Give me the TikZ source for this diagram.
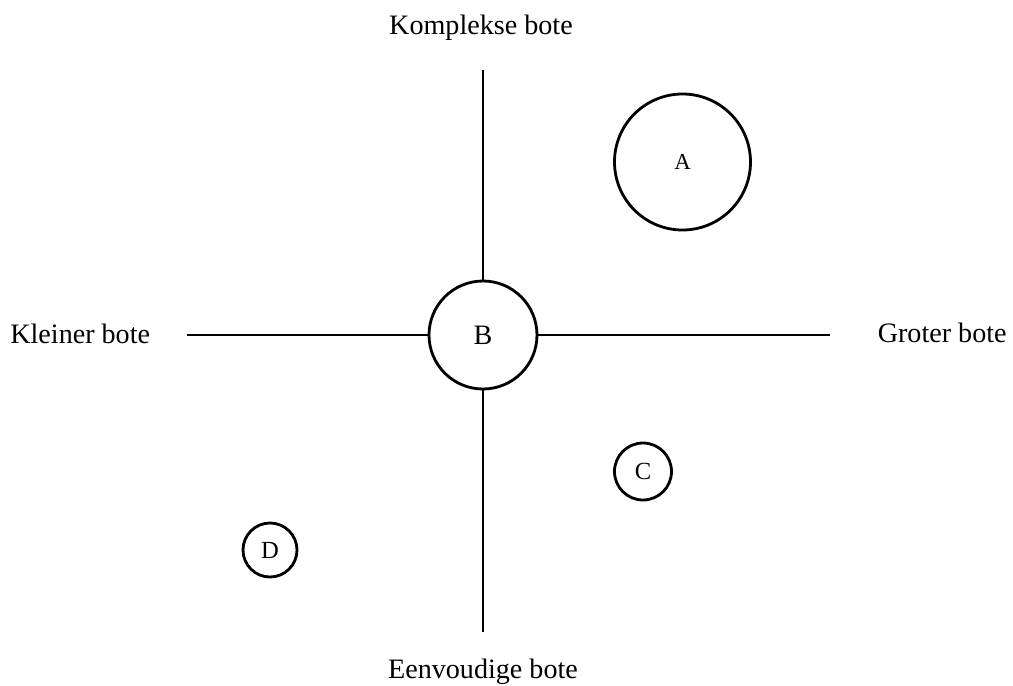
\documentclass[tikz,border=0pt]{standalone}
\usepackage{fontspec}
\setmainfont{Liberation Serif}
\usetikzlibrary{positioning}

\begin{document}
\begin{tikzpicture}[
    ring/.style={circle,draw,line width=1.6pt,inner sep=0pt,font=\fontsize{14}{16}\selectfont},
    axis/.style={line width=1.5pt},
    lbl/.style={font=\fontsize{16}{19}\selectfont,inner sep=0pt}]
  \useasboundingbox (-9.66,-7.0) rectangle (10.6,6.7);

  % Centre circle and axes
  \node[ring,minimum size=2.16cm,font=\fontsize{16}{18}\selectfont] (B) at (0,0) {B};
  \coordinate (top) at (0,5.3);
  \coordinate (bottom) at (0,-5.94);
  \coordinate (left) at (-5.92,0);
  \coordinate (right) at (6.94,0);
  \draw[axis] (B.north) -- (top);
  \draw[axis] (B.south) -- (bottom);
  \draw[axis] (B.west) -- (left);
  \draw[axis] (B.east) -- (right);

  % Axis labels
  \node[lbl,anchor=base] (complex) at (-0.04,6.02) {Komplekse bote};
  \node[lbl,anchor=base] (simple) at (0,-6.86) {Eenvoudige bote};
  \node[lbl,anchor=base west] (smaller) at (-9.46,-0.16) {Kleiner bote};
  \node[lbl,anchor=base east] (larger) at (10.48,-0.14) {Groter bote};

  % Other boats
  \node[ring,minimum size=2.72cm,font=\fontsize{13}{15}\selectfont] (A) at (3.99,3.46) {A};
  \node[ring,minimum size=1.14cm] (C) at (3.2,-2.73) {C};
  \node[ring,minimum size=1.08cm] (D) at (-4.26,-4.3) {D};
\end{tikzpicture}
\end{document}
